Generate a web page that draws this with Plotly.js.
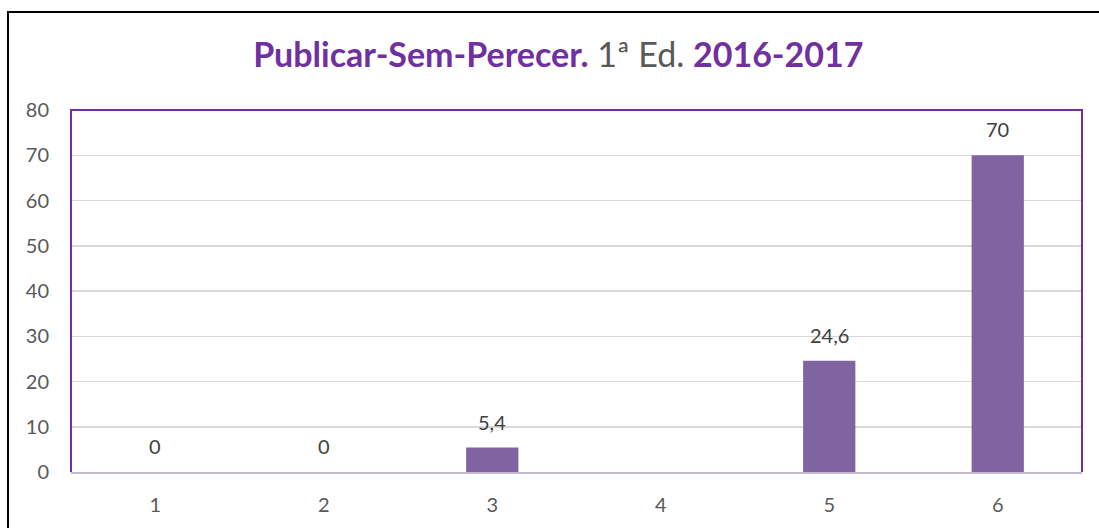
<!DOCTYPE html>
<html>
<head>
<meta charset="utf-8">
<script src="https://cdn.plot.ly/plotly-3.0.1.min.js"></script>
<style>
html,body{margin:0;padding:0;background:#fff;}
#wrap{position:relative;width:1099px;height:528px;overflow:hidden;}
#chart{position:absolute;left:0;top:0;width:1099px;height:528px;}
#frame{position:absolute;left:7px;top:11px;width:1200px;height:600px;border-left:2px solid #000;border-top:2px solid #000;pointer-events:none;}
</style>
</head>
<body>
<div id="wrap"><div id="chart"></div><div id="frame"></div></div>
<script>
const categories = ['1', '2', '3', '4', '5', '6'];
const values = [0, 0, 5.4, null, 24.6, 70];
const yTicks = [0, 10, 20, 30, 40, 50, 60, 70, 80];

const labels = values.map(v => v === null ? '' : String(v).replace('.', ','));
const FONT = 'Lato, "Open Sans", sans-serif';

const annotations = [];
categories.forEach((c, i) => {
  if (values[i] !== null) {
    annotations.push({
      x: i, y: values[i], xref: 'x', yref: 'y',
      text: labels[i], showarrow: false,
      yanchor: 'bottom', yshift: 12,
      font: {family: FONT, size: 20, color: '#404040'}
    });
  }
});

const trace = {
  type: 'bar',
  x: categories,
  y: values,
  marker: {color: '#8064a2'},
  width: 0.31,
  hoverinfo: 'none'
};

const layout = {
  width: 1099, height: 528,
  margin: {l: 70.5, r: 17, t: 109.5, b: 56, pad: 0},
  paper_bgcolor: 'rgba(0,0,0,0)',
  plot_bgcolor: '#fff',
  showlegend: false,
  title: {
    text: '<b>Publicar-Sem-Perecer.</b> <span style="color:#595959">1ª Ed.</span> <b>2016-2017</b>',
    font: {family: FONT, size: 34, color: '#7030a0'},
    x: 0.508, xanchor: 'center', y: 0.895, yanchor: 'middle', xref: 'container', yref: 'container'
  },
  xaxis: {
    type: 'category',
    range: [-0.5, 5.5],
    showgrid: false,
    showline: true, linecolor: '#c3b9d3', linewidth: 2,
    ticks: '', ticklabelstandoff: 14,
    tickfont: {family: FONT, size: 20, color: '#595959'},
    zeroline: false
  },
  yaxis: {
    range: [0, 80],
    tickvals: yTicks,
    ticktext: yTicks.map(String),
    showgrid: true, gridcolor: '#d9d9d9', gridwidth: 1.5,
    showline: false, zeroline: false,
    ticks: '', ticklabelstandoff: 21,
    tickfont: {family: FONT, size: 20, color: '#595959'}
  },
  annotations: annotations,
  shapes: [{
    type: 'path', xref: 'paper', yref: 'paper',
    path: 'M0,0 L0,1 L1,1 L1,0',
    line: {color: '#7030a0', width: 2}, layer: 'above'
  }]
};

Plotly.newPlot('chart', [trace], layout, {displayModeBar: false, staticPlot: true});
</script>
</body>
</html>
